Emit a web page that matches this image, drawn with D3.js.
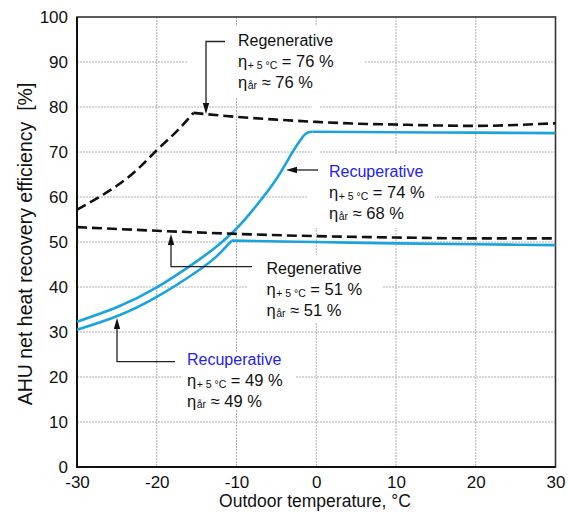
<!DOCTYPE html>
<html><head><meta charset="utf-8">
<script src="https://cdn.jsdelivr.net/npm/d3@7"></script>
<style>
body{margin:0;background:#fff}
text{font-family:"Liberation Sans",Arial,Helvetica,sans-serif;fill:#111}
</style>
</head><body>
<svg id="chart" width="568" height="512"></svg>
<script>
// ---- data ----
const xTicks = [-30, -20, -10, 0, 10, 20, 30];
const yTicks = [0, 10, 20, 30, 40, 50, 60, 70, 80, 90, 100];

// Regenerative (upper, eta+5 = 76 %): rising branch, then falling plateau
const regenHighRiseT = [-30, -27.5, -25, -22.5, -20, -17.5, -15.4];
const regenHighRiseV = [57.2, 59.7, 62.5, 66.0, 70.4, 74.6, 78.7];
const regenHighFlatT = [-15.4, -10, -5, 0, 5, 10, 15, 20, 25, 30];
const regenHighFlatV = [78.7, 77.8, 77.2, 76.7, 76.3, 76.1, 75.9, 75.8, 76.0, 76.4];
// Regenerative (lower, eta+5 = 51 %)
const regenLowT = [-30, -20, -10, 0, 10, 20, 30];
const regenLowV = [53.3, 52.5, 51.8, 51.3, 51.0, 50.8, 50.8];
// Recuperative (upper, eta+5 = 74 %)
const recupHighRiseT = [-30, -25, -20, -15, -12.5, -10, -7.5, -5, -3, -1.6];
const recupHighRiseV = [32.3, 35.5, 39.9, 45.7, 49.0, 53.0, 58.1, 64.0, 69.9, 73.6];
const recupHighCornerT = [-1.6, -1.0, -0.5];
const recupHighCornerV = [73.6, 74.4, 74.5];
const recupHighFlatT = [-0.5, 10, 20, 30];
const recupHighFlatV = [74.5, 74.4, 74.3, 74.2];
// Recuperative (lower, eta+5 = 49 %)
const recupLowRiseT = [-30, -25, -20, -15, -12.5, -10.6];
const recupLowRiseV = [30.5, 33.5, 37.8, 43.4, 46.8, 50.3];
const recupLowFlatT = [-10.6, 0, 10, 20, 30];
const recupLowFlatV = [50.3, 50.0, 49.7, 49.5, 49.3];

const xTitle = "Outdoor temperature, °C";
const yTitle = "AHU net heat recovery efficiency  [%]";

const annNames = ["Regenerative", "Recuperative", "Regenerative", "Recuperative"];
const annEta5 = ["76", "74", "51", "49"];
const annEtaYear = ["76", "68", "51", "49"];

// ---- layout ----
const svg = d3.select("#chart");
const x = d3.scaleLinear().domain([-30, 30]).range([77, 555.5]);
const y = d3.scaleLinear().domain([0, 100]).range([467, 17]);

const blue = "#1aa3dd";
const blueText = "#2323f0";

// grid
const grid = svg.append("g");
grid.selectAll("line.v").data(xTicks.slice(1, -1)).join("line")
  .attr("x1", d => x(d)).attr("x2", d => x(d)).attr("y1", y(100)).attr("y2", y(0))
  .attr("stroke", "#b0b0b0").attr("stroke-width", 1).attr("stroke-dasharray", "2,1");
grid.selectAll("line.h").data(yTicks.slice(1, -1)).join("line")
  .attr("y1", d => y(d)).attr("y2", d => y(d)).attr("x1", x(-30)).attr("x2", x(30))
  .attr("stroke", "#b0b0b0").attr("stroke-width", 1).attr("stroke-dasharray", "2,1");

// white patches behind annotation blocks (grid interruptions)
const patches = [
  [187, 25, 178, 73],
  [312, 98, 8, 60],
  [307, 155, 128, 73],
  [248, 255, 135, 67],
  [182, 352, 113, 58]
];
svg.append("g").selectAll("rect").data(patches).join("rect")
  .attr("x", d => d[0]).attr("y", d => d[1]).attr("width", d => d[2]).attr("height", d => d[3])
  .attr("fill", "#fff");

// frame
svg.append("rect").attr("x", x(-30)).attr("y", y(100))
  .attr("width", x(30) - x(-30)).attr("height", y(0) - y(100))
  .attr("fill", "none").attr("stroke", "#333").attr("stroke-width", 1.6);
svg.append("path").attr("d", `M${x(-30)},${y(100)}V${y(0)}H${x(30)}`)
  .attr("fill", "none").attr("stroke", "#111").attr("stroke-width", 2);

// axes
const fontFam = '"Liberation Sans",Arial,sans-serif';
const xAxis = d3.axisBottom(x).tickValues(xTicks).tickSize(0).tickPadding(9).tickFormat(d => d);
const gx = svg.append("g").attr("transform", `translate(0,${y(0)})`).call(xAxis);
gx.select(".domain").remove();
gx.selectAll("text").attr("font-size", 17).style("font-family", fontFam).attr("fill", "#111");

const yAxis = d3.axisLeft(y).tickValues(yTicks).tickSize(0).tickPadding(9);
const gy = svg.append("g").attr("transform", `translate(${x(-30)},0)`).call(yAxis);
gy.select(".domain").remove();
gy.selectAll("text").attr("font-size", 17).style("font-family", fontFam).attr("fill", "#111");

svg.append("text").attr("x", 315).attr("y", 507).attr("text-anchor", "middle")
  .attr("font-size", 17.5).text(xTitle);
svg.append("text").attr("transform", "translate(32,244) rotate(-90)")
  .attr("text-anchor", "middle").attr("font-size", 19.5)
  .style("white-space", "pre").text(yTitle);

// curves
const zip = (a, b) => a.map((t, i) => [t, b[i]]);
const mono = d3.line().x(d => x(d[0])).y(d => y(d[1])).curve(d3.curveMonotoneX);
const nat = d3.line().x(d => x(d[0])).y(d => y(d[1])).curve(d3.curveNatural);
const plot = svg.append("g");
function draw(T, V, color, dashed, gen) {
  const p = plot.append("path").datum(zip(T, V)).attr("d", gen)
    .attr("fill", "none").attr("stroke", color).attr("stroke-width", 2.6)
    .attr("stroke-linejoin", "round");
  if (dashed) p.attr("stroke-dasharray", "10,5");
}
draw(recupLowRiseT, recupLowRiseV, blue, false, nat);
draw(recupLowFlatT, recupLowFlatV, blue, false, mono);
draw(recupHighRiseT, recupHighRiseV, blue, false, nat);
draw(recupHighCornerT, recupHighCornerV, blue, false, mono);
draw(recupHighFlatT, recupHighFlatV, blue, false, mono);
draw(regenLowT, regenLowV, "#111", true, mono);
draw(regenHighRiseT, regenHighRiseV, "#111", true, nat);
draw(regenHighFlatT, regenHighFlatV, "#111", true, mono);

// annotations: leader path points (pixels), arrow tip & direction, text origin
const anns = [
  {pts: [[225, 41.5], [206, 41.5], [206, 104]], tip: [206, 114], dir: "down", tx: 238, ty: 46, color: "#111"},
  {pts: [[318, 170], [296, 170]], tip: [286, 170], dir: "left", tx: 329, ty: 177, color: blueText},
  {pts: [[252, 266.7], [171, 266.7], [171, 244]], tip: [171, 234], dir: "up", tx: 266.5, ty: 274, color: "#111"},
  {pts: [[175, 361.7], [117, 361.7], [117, 328]], tip: [117, 318], dir: "up", tx: 187, ty: 365, color: blueText}
];
const ag = svg.append("g");
anns.forEach((a, i) => {
  ag.append("path").attr("d", d3.line()(a.pts)).attr("fill", "none").attr("stroke", "#222").attr("stroke-width", 1.3);
  const [tx, ty] = a.tip;
  let tri;
  if (a.dir === "down") tri = [[tx, ty], [tx - 3.2, ty - 11], [tx + 3.2, ty - 11]];
  else if (a.dir === "up") tri = [[tx, ty], [tx - 3.2, ty + 11], [tx + 3.2, ty + 11]];
  else tri = [[tx, ty], [tx + 11, ty - 3.2], [tx + 11, ty + 3.2]];
  ag.append("path").attr("d", d3.line()(tri) + "Z").attr("fill", "#111");

  ag.append("text").attr("x", a.tx).attr("y", a.ty).attr("font-size", 16)
    .style("fill", a.color).text(annNames[i]);
  const t2 = ag.append("text").attr("x", a.tx).attr("y", a.ty + 21).attr("font-size", 16.5);
  t2.append("tspan").text("η");
  t2.append("tspan").attr("font-size", 10.5).attr("dy", 2).attr("dx", 0.5).text("+ 5 °C");
  t2.append("tspan").attr("dy", -2).text(" = " + annEta5[i] + " %");
  const t3 = ag.append("text").attr("x", a.tx).attr("y", a.ty + 42).attr("font-size", 16.5);
  t3.append("tspan").text("η");
  t3.append("tspan").attr("font-size", 10.5).attr("dy", 0.5).attr("dx", 0.5).text("år");
  t3.append("tspan").attr("dy", -0.5).text(" ≈ " + annEtaYear[i] + " %");
});
</script>
</body></html>
